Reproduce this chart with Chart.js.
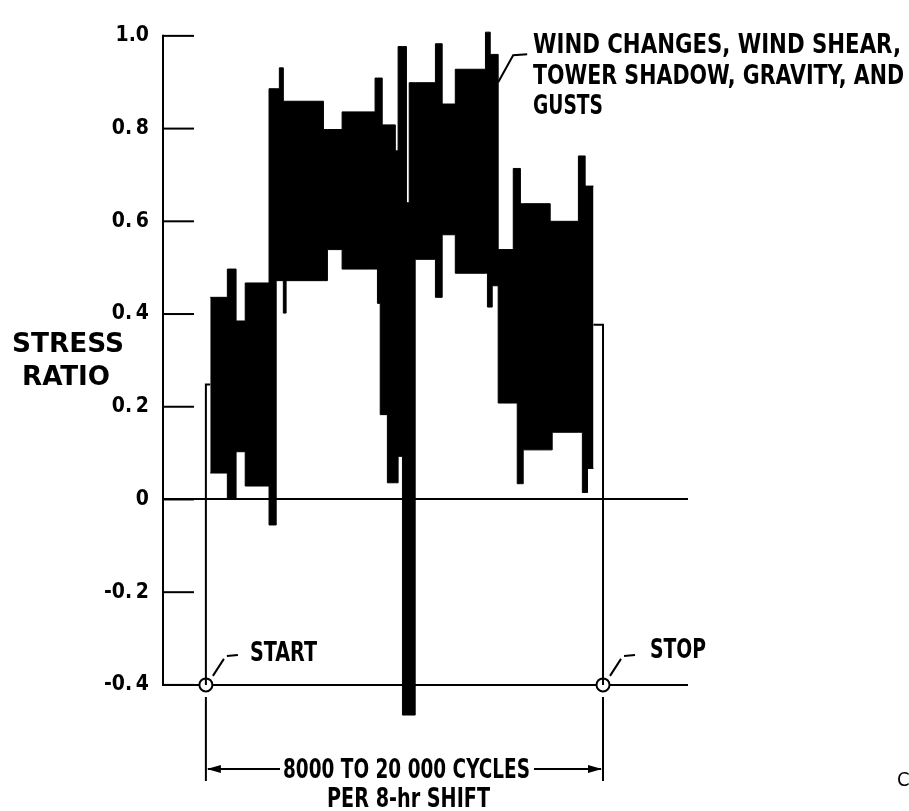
<!DOCTYPE html>
<html><head><meta charset="utf-8">
<script src="https://cdn.jsdelivr.net/npm/chart.js@4.4.1/dist/chart.umd.min.js"></script>
<style>html,body{margin:0;padding:0;background:#fff}#wrap{width:909px;height:811px;position:relative}</style>
</head><body><div id="wrap"><canvas id="c"></canvas></div>
<script>
// x = position within one 8-hr shift, percent (0 = START, 100 = STOP)
const blockEdges = [1.1, 5.4, 7.6, 9.9, 15.9, 17.7, 18.5, 19.5, 20.2, 29.6, 30.6, 34.3, 42.6, 43.2, 43.9, 44.4, 45.7, 47.7, 48.4, 49.5, 50.5, 51.2, 52.7, 57.8, 59.5, 62.8, 70.4, 70.9, 71.6, 72.1, 73.6, 77.4, 78.4, 79.2, 79.9, 86.7, 87.2, 93.8, 94.8, 95.5, 96.1, 97.6];
const stressHigh = [0.436, 0.497, 0.385, 0.467, 0.886, 0.886, 0.931, 0.859, 0.859, 0.798, 0.798, 0.836, 0.909, 0.909, 0.909, 0.808, 0.808, 0.752, 0.977, 0.977, 0.640, 0.899, 0.899, 0.983, 0.853, 0.928, 1.008, 1.008, 0.960, 0.960, 0.539, 0.714, 0.714, 0.638, 0.638, 0.600, 0.600, 0.741, 0.741, 0.676, 0.676];
const stressLow  = [0.057, 0.000, 0.103, 0.029, -0.055, 0.472, 0.472, 0.402, 0.472, 0.472, 0.539, 0.497, 0.497, 0.423, 0.183, 0.183, 0.036, 0.036, 0.093, -0.465, -0.465, -0.465, 0.518, 0.436, 0.571, 0.488, 0.488, 0.415, 0.415, 0.461, 0.208, 0.208, 0.034, 0.034, 0.107, 0.107, 0.145, 0.145, 0.015, 0.015, 0.067];
const startTraceX = [0, 0, 1.1];
const startTraceY = [-0.4, 0.248, 0.248];
const stopTraceX = [97.6, 100, 100];
const stopTraceY = [0.377, 0.377, -0.4];
const markerX = [0, 100];
const markerY = [-0.4, -0.4];
const yTickValues = [-0.4, -0.2, 0, 0.2, 0.4, 0.6, 0.8, 1.0];
const yTickLabels = ['-0.\u20094', '-0.\u20092', '0', '0.\u20092', '0.\u20094', '0.\u20096', '0.\u20098', '1.0'];

const FONT = "'DejaVu Sans Condensed', 'Liberation Sans Narrow', 'Roboto Condensed', Roboto, 'DejaVu Sans', sans-serif";

function steps(edges, vals) {
  const pts = vals.map((v, i) => ({x: edges[i], y: v}));
  pts.push({x: edges[edges.length - 1], y: vals[vals.length - 1]});
  return pts;
}
function pairs(xs, ys) { return xs.map((x, i) => ({x, y: ys[i]})); }

const annot = {
  id: 'annot',
  afterDraw(chart) {
    const {ctx, chartArea: a, scales: {x, y}} = chart;
    const ln = (pts) => { ctx.beginPath(); ctx.moveTo(pts[0][0], pts[0][1]); for (let i = 1; i < pts.length; i++) ctx.lineTo(pts[i][0], pts[i][1]); ctx.stroke(); };
    const txt = (s, left, base, w, size) => {
      ctx.font = `bold ${size}px ${FONT}`;
      const m = ctx.measureText(s).width;
      ctx.save(); ctx.translate(left, base); ctx.scale(w / m, 1);
      ctx.textAlign = 'left'; ctx.textBaseline = 'alphabetic'; ctx.fillText(s, 0, 0); ctx.restore();
    };
    ctx.save();
    ctx.strokeStyle = '#000'; ctx.fillStyle = '#000'; ctx.lineWidth = 2;
    const yTop = y.getPixelForValue(1.0), yBot = y.getPixelForValue(-0.4);
    ln([[a.left, yTop - 1], [a.left, yBot + 1]]);
    yTickValues.forEach(v => { const py = y.getPixelForValue(v); ln([[a.left, py], [a.left + 31, py]]); });

    const lx = x.getPixelForValue(73.6), ly = y.getPixelForValue(0.9);
    ln([[lx, ly], [lx + 15, ly - 27], [lx + 29, ly - 28]]);
    txt('WIND CHANGES, WIND SHEAR,', 533, 53, 368, 27);
    txt('TOWER SHADOW, GRAVITY, AND', 533, 84, 371, 27);
    txt('GUSTS', 533, 114, 70, 27);

    const sx = x.getPixelForValue(0), ex = x.getPixelForValue(100), my = y.getPixelForValue(-0.4);
    [sx, ex].forEach(cx => {
      ln([[cx + 7, my - 9], [cx + 18, my - 26]]);
      ln([[cx + 21, my - 29], [cx + 32, my - 30]]);
    });
    txt('START', 250, 661, 67, 27);
    txt('STOP', 650, 658, 56, 27);

    ln([[sx, 697], [sx, 781]]);
    ln([[ex, 697], [ex, 781]]);
    const dy = 769;
    ln([[sx + 2, dy], [280, dy]]);
    ln([[534, dy], [ex - 2, dy]]);
    ctx.beginPath(); ctx.moveTo(sx + 1, dy); ctx.lineTo(sx + 15, dy - 4); ctx.lineTo(sx + 15, dy + 4); ctx.closePath(); ctx.fill();
    ctx.beginPath(); ctx.moveTo(ex - 1, dy); ctx.lineTo(ex - 15, dy - 4); ctx.lineTo(ex - 15, dy + 4); ctx.closePath(); ctx.fill();
    txt('8000 TO 20 000 CYCLES', 283, 778, 247, 27);
    txt('PER 8-hr SHIFT', 327, 807, 163, 27);

    txt('STRESS', 12, 352, 112, 27);
    txt('RATIO', 22, 385, 88, 27);

    ctx.font = `20px ${FONT}`;
    ctx.fillText('C', 897, 786);
    ctx.restore();
  }
};

new Chart(document.getElementById('c'), {
  type: 'line',
  data: {
    datasets: [
      {data: steps(blockEdges, stressLow), stepped: 'before', borderColor: '#000', borderWidth: 1, pointRadius: 0, fill: false, clip: false},
      {data: steps(blockEdges, stressHigh), stepped: 'before', borderColor: '#000', borderWidth: 1, pointRadius: 0, fill: '-1', backgroundColor: '#000', clip: false},
      {data: pairs(startTraceX, startTraceY), borderColor: '#000', borderWidth: 2, pointRadius: 0, fill: false, clip: false},
      {data: pairs(stopTraceX, stopTraceY), borderColor: '#000', borderWidth: 2, pointRadius: 0, fill: false, clip: false},
      {data: pairs(markerX, markerY), showLine: false, pointRadius: 6.5, pointBackgroundColor: '#fff', pointBorderColor: '#000', pointBorderWidth: 2, clip: false},
      {data: pairs(markerX, markerY), showLine: false, pointRadius: 1.8, pointBackgroundColor: '#000', pointBorderColor: '#000', pointBorderWidth: 0, clip: false}
    ]
  },
  options: {
    responsive: true, maintainAspectRatio: false, animation: false,
    layout: {padding: {left: 0, top: 10, right: 221, bottom: 89}},
    plugins: {legend: {display: false}, tooltip: {enabled: false}},
    elements: {line: {tension: 0}},
    scales: {
      x: {type: 'linear', min: -10.8, max: 121.4, display: false},
      y: {
        min: -0.48, max: 1.02,
        afterFit: s => { s.width = 163; },
        afterBuildTicks: s => { s.ticks = yTickValues.map(v => ({value: v})); },
        border: {display: false},
        grid: {
          drawTicks: false, lineWidth: 2,
          color: c => (c.tick && (Math.abs(c.tick.value) < 1e-9 || Math.abs(c.tick.value + 0.4) < 1e-9)) ? '#000' : 'rgba(0,0,0,0)'
        },
        ticks: {
          padding: 14, color: '#000',
          font: {family: FONT, size: 21, weight: 'bold'},
          callback: v => yTickLabels[Math.round((v + 0.4) / 0.2)]
        }
      }
    }
  },
  plugins: [annot]
});
</script></body></html>
